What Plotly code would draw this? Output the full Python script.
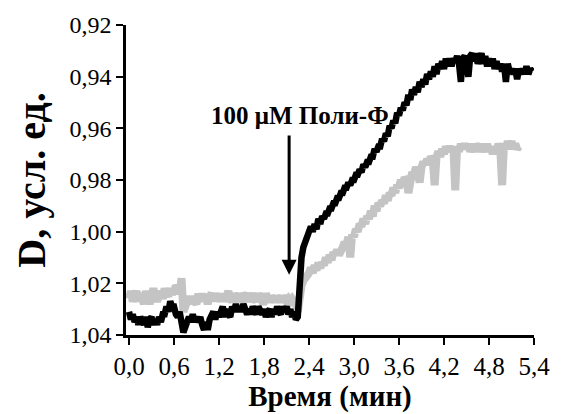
import numpy as np
import plotly.graph_objects as go

# ---- data; samples every 0.025 min ----
dt = 0.025
d_black = [
    1.031, 1.034, 1.032, 1.035, 1.033, 1.036, 1.033, 1.035,
    1.036, 1.033, 1.037, 1.034, 1.033, 1.036, 1.034, 1.036,
    1.033, 1.035, 1.032, 1.032, 1.029, 1.031, 1.027, 1.029,
    1.029, 1.032, 1.033, 1.031, 1.036, 1.039, 1.037, 1.034,
    1.033, 1.035, 1.032, 1.035, 1.033, 1.035, 1.033, 1.036,
    1.038, 1.035, 1.038, 1.034, 1.033, 1.031, 1.034, 1.031,
    1.033, 1.031, 1.029, 1.033, 1.030, 1.032, 1.033, 1.029,
    1.031, 1.028, 1.031, 1.029, 1.031, 1.028, 1.030, 1.032,
    1.030, 1.032, 1.029, 1.031, 1.032, 1.029, 1.031, 1.032,
    1.030, 1.033, 1.031, 1.030, 1.033, 1.030, 1.032, 1.029,
    1.031, 1.032, 1.029, 1.031, 1.029, 1.032, 1.030, 1.033,
    1.031, 1.034, 1.033, 1.016, 1.010, 1.006, 1.004, 1.002,
    1.001, 0.998, 1.000, 0.997, 0.999, 0.995, 0.997, 0.994,
    0.995, 0.993, 0.993, 0.991, 0.991, 0.989, 0.989, 0.987,
    0.987, 0.985, 0.985, 0.983, 0.983, 0.981, 0.982, 0.980,
    0.980, 0.978, 0.978, 0.976, 0.977, 0.974, 0.975, 0.973,
    0.973, 0.971, 0.971, 0.968, 0.969, 0.967, 0.967, 0.964,
    0.965, 0.962, 0.963, 0.959, 0.960, 0.957, 0.958, 0.954,
    0.955, 0.952, 0.953, 0.950, 0.951, 0.947, 0.949, 0.945,
    0.947, 0.944, 0.946, 0.942, 0.944, 0.941, 0.943, 0.939,
    0.941, 0.938, 0.940, 0.936, 0.939, 0.935, 0.937, 0.934,
    0.937, 0.933, 0.936, 0.933, 0.936, 0.933, 0.934, 0.932,
    0.935, 0.942, 0.933, 0.932, 0.935, 0.940, 0.932, 0.931,
    0.934, 0.931, 0.935, 0.932, 0.931, 0.935, 0.932, 0.936,
    0.933, 0.936, 0.933, 0.937, 0.934, 0.937, 0.935, 0.938,
    0.935, 0.942, 0.935, 0.938, 0.937, 0.939, 0.937, 0.941,
    0.937, 0.939, 0.937, 0.939, 0.936, 0.939, 0.937, 0.938,
]
d_gray = [
    1.026, 1.023, 1.027, 1.024, 1.023, 1.027, 1.024, 1.026,
    1.028, 1.023, 1.026, 1.028, 1.025, 1.022, 1.025, 1.027,
    1.025, 1.023, 1.026, 1.022, 1.024, 1.025, 1.022, 1.024,
    1.023, 1.021, 1.022, 1.024, 1.018, 1.031, 1.029, 1.027,
    1.025, 1.028, 1.025, 1.027, 1.028, 1.024, 1.027, 1.024,
    1.027, 1.025, 1.028, 1.025, 1.024, 1.027, 1.024, 1.026,
    1.025, 1.027, 1.024, 1.027, 1.025, 1.023, 1.026, 1.027,
    1.024, 1.026, 1.027, 1.024, 1.026, 1.027, 1.025, 1.024,
    1.027, 1.025, 1.024, 1.026, 1.027, 1.024, 1.026, 1.027,
    1.027, 1.024, 1.026, 1.027, 1.025, 1.026, 1.027, 1.025,
    1.026, 1.027, 1.025, 1.026, 1.027, 1.026, 1.027, 1.026,
    1.027, 1.028, 1.031, 1.024, 1.021, 1.019, 1.017, 1.017,
    1.016, 1.014, 1.016, 1.013, 1.015, 1.012, 1.014, 1.012,
    1.013, 1.010, 1.012, 1.009, 1.011, 1.008, 1.009, 1.007,
    1.009, 1.006, 1.006, 1.004, 1.005, 1.002, 1.010, 1.001,
    1.002, 0.999, 1.000, 0.997, 0.998, 0.995, 0.997, 0.994,
    0.995, 0.992, 0.994, 0.990, 0.992, 0.989, 0.990, 0.988,
    0.989, 0.986, 0.988, 0.985, 0.986, 0.983, 0.985, 0.982,
    0.983, 0.980, 0.982, 0.979, 0.980, 0.985, 0.978, 0.977,
    0.978, 0.975, 0.977, 0.981, 0.975, 0.973, 0.974, 0.972,
    0.973, 0.971, 0.972, 0.982, 0.971, 0.969, 0.971, 0.968,
    0.970, 0.967, 0.969, 0.967, 0.969, 0.967, 0.984, 0.967,
    0.969, 0.966, 0.968, 0.966, 0.968, 0.966, 0.969, 0.967,
    0.969, 0.966, 0.968, 0.966, 0.969, 0.967, 0.969, 0.966,
    0.969, 0.967, 0.970, 0.967, 0.969, 0.966, 0.968, 0.982,
    0.966, 0.968, 0.965, 0.967, 0.965, 0.968, 0.966, 0.968,
    0.967,
]
t_black = np.round(np.arange(len(d_black)) * dt, 3)
t_gray = np.round(np.arange(len(d_gray)) * dt, 3)

x_ticks = [0.0, 0.6, 1.2, 1.8, 2.4, 3.0, 3.6, 4.2, 4.8, 5.4]
y_ticks = [0.92, 0.94, 0.96, 0.98, 1.00, 1.02, 1.04]

arrow_t = 2.135
arrow_top = 0.9622
arrow_tip = 1.0167
label_text = "100 \u03bcM Поли-Ф"
label_t = 2.276
label_d = 0.9552

FONT = "'Liberation Serif', 'Times New Roman', Times, serif"

fig = go.Figure()
fig.add_trace(go.Scatter(x=t_gray, y=d_gray, mode="lines",
                         line=dict(color="#c4c4c4", width=8), showlegend=False))
fig.add_trace(go.Scatter(x=t_black, y=d_black, mode="lines",
                         line=dict(color="#000000", width=6.5), showlegend=False))

fig.add_annotation(x=arrow_t, y=arrow_tip, ax=arrow_t, ay=arrow_top, xref="x", yref="y",
                   axref="x", ayref="y", text="", showarrow=True, arrowhead=2,
                   arrowsize=1.0, arrowwidth=3, arrowcolor="black")
fig.add_annotation(x=label_t, y=label_d, xref="x", yref="y", text="<b>" + label_text + "</b>",
                   showarrow=False, font=dict(family=FONT, size=25, color="black"),
                   xanchor="center", yanchor="middle")

fig.update_layout(
    width=562, height=414,
    margin=dict(l=126, r=19, t=24, b=67),
    paper_bgcolor="white", plot_bgcolor="white",
    separators=",.",
    font=dict(family=FONT, color="black"),
)
fig.update_xaxes(range=[-0.04, 5.4], tickvals=x_ticks, tickformat=".1f",
                 showgrid=False, zeroline=False, showline=True, linecolor="black", linewidth=2.5,
                 ticks="outside", ticklen=7, tickwidth=2, tickcolor="black",
                 tickfont=dict(family=FONT, size=25),
                 title=dict(text="<b>Время (мин)</b>", font=dict(family=FONT, size=29), standoff=2))
fig.update_yaxes(range=[1.04, 0.92], tickvals=y_ticks, tickformat=".2f",
                 showgrid=False, zeroline=False, showline=True, linecolor="black", linewidth=2.5,
                 ticks="outside", ticklen=7, tickwidth=2, tickcolor="black",
                 tickfont=dict(family=FONT, size=24),
                 title=dict(text="<b>D, усл. ед.</b>", font=dict(family=FONT, size=40), standoff=12))

fig.write_html("out.html")
